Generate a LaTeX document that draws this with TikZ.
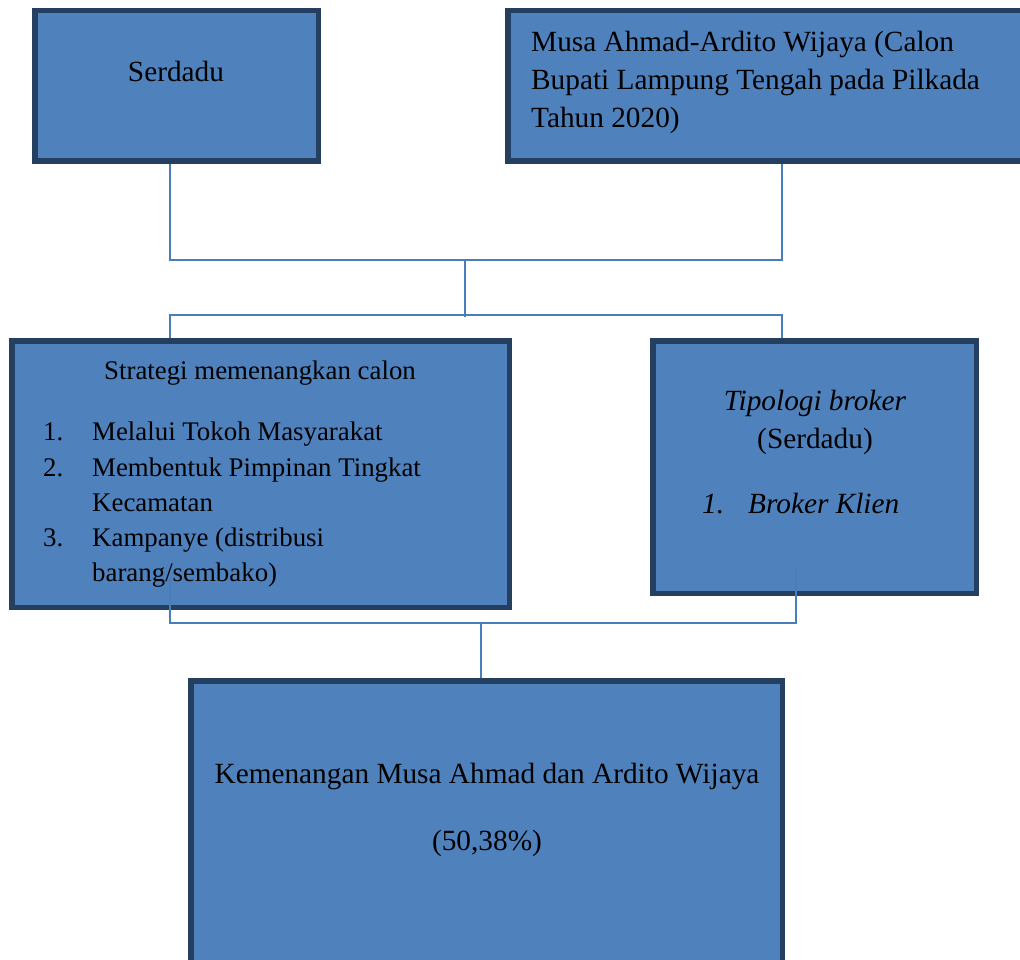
\documentclass[tikz,border=0pt]{standalone}
\usepackage{fontspec}
\setmainfont{Liberation Serif}
\definecolor{boxfill}{HTML}{4F81BD}
\definecolor{boxline}{HTML}{243F60}
\definecolor{conn}{HTML}{4A7EBB}
\begin{document}
\begin{tikzpicture}[x=1pt,y=-1pt,
  box/.style={draw=boxline,fill=boxfill,line width=5.5pt,rectangle,inner sep=0pt},
  link/.style={draw=conn,line width=2pt},
  big/.style={inner sep=0pt,font=\fontsize{29.3}{35}\selectfont},
  small/.style={inner sep=0pt,font=\fontsize{26.85}{35}\selectfont}]
\clip (0,0) rectangle (1020,960);
\fill[white] (0,0) rectangle (1020,960);
% boxes
\node[box,minimum width=283.5pt,minimum height=150.5pt] (serd) at (176.5,86) {};
\node[box,minimum width=518.25pt,minimum height=150.5pt] (musa) at (766.9,86) {};
\node[box,minimum width=497.5pt,minimum height=266.5pt] (strat) at (260.5,474) {};
\node[box,minimum width=323.5pt,minimum height=252.5pt] (tipo) at (814.5,467) {};
\node[box,minimum width=591.5pt,minimum height=309.25pt] (kem) at (486.5,835.4) {};
% texts
\node[big,anchor=base] (tserd) at (176,82) {Serdadu};
\node[big,anchor=base west] (tmusa1) at (531,52) {Musa Ahmad-Ardito Wijaya (Calon};
\node[big,anchor=base west] (tmusa2) at (531,90) {Bupati Lampung Tengah pada Pilkada};
\node[big,anchor=base west] (tmusa3) at (531,128) {Tahun 2020)};
\node[small,anchor=base] (tstrat) at (260,379) {Strategi memenangkan calon};
\node[small,anchor=base west] (n1) at (43,440) {1.};
\node[small,anchor=base west] (i1) at (92,440) {Melalui Tokoh Masyarakat};
\node[small,anchor=base west] (n2) at (43,476) {2.};
\node[small,anchor=base west] (i2) at (92,476) {Membentuk Pimpinan Tingkat};
\node[small,anchor=base west] (i2b) at (92,511) {Kecamatan};
\node[small,anchor=base west] (n3) at (43,546) {3.};
\node[small,anchor=base west] (i3) at (92,546) {Kampanye (distribusi};
\node[small,anchor=base west] (i3b) at (92,581) {barang/sembako)};
\node[big,anchor=base] (ttipo) at (815,410) {\itshape Tipologi broker};
\node[big,anchor=base] (tserd2) at (815,448) {(Serdadu)};
\node[big,anchor=base west] (tn1) at (702,513) {\itshape 1.};
\node[big,anchor=base west] (tbk) at (748,513) {\itshape Broker Klien};
\node[big,anchor=base] (tkem) at (487,783) {Kemenangan Musa Ahmad dan Ardito Wijaya};
\node[big,anchor=base] (tpct) at (487,850) {(50,38\%)};
% junctions
\coordinate (ja) at (170,260);
\coordinate (jb) at (782,260);
\coordinate (jc) at (465,260);
\coordinate (jd) at (465,317);
\coordinate (ka) at (170,315);
\coordinate (kb) at (782,315);
\coordinate (sa) at (170,578);
\coordinate (ta) at (796,567);
\coordinate (la) at (170,623);
\coordinate (lb) at (796,623);
\coordinate (lc) at (481,623);
% connectors
\draw[link] (serd.south -| ja) -- (ja) -- (jb) -- (musa.south -| jb);
\draw[link] (jc) -- (jd);
\draw[link] (strat.north -| ka) -- (ka) -- (kb) -- (tipo.north -| kb);
\draw[link] (sa) -- (la) -- (lb) -- (ta);
\draw[link] (lc) -- (kem.north -| lc);
\end{tikzpicture}
\end{document}
